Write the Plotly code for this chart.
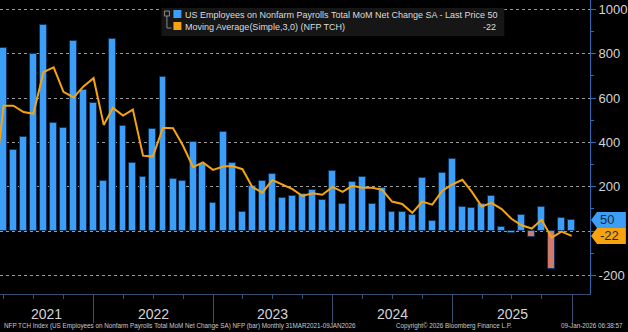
import pandas as pd
import plotly.graph_objects as go

# ---- data ----
months = pd.date_range("2021-03-31", periods=58, freq="ME")
nfp = [825, 364, 423, 799, 931, 486, 466, 856, 637, 576,
       224, 868, 472, 305, 242, 460, 695, 236, 227, 400, 302, 126,
       445, 307, 86, 205, 227, 257, 150, 160, 165, 186, 141, 270,
       120, 221, 245, 120, 193, 87, 87, 72, 239, 45, 260, 324,
       110, 102, 120, 158, 18, -11, 71, -26, 107, -172, 57, 50]
ma_dates = pd.date_range("2021-02-28", periods=59, freq="ME")
ma3 = [170, 566, 566, 537, 529, 718, 739, 628, 603, 653, 690,
       479, 556, 521, 548, 340, 336, 466, 464, 386, 288, 310, 276,
       291, 293, 279, 199, 173, 230, 211, 189, 158, 170, 164, 199,
       177, 204, 195, 195, 186, 133, 122, 82, 133, 119, 181, 210,
       231, 179, 111, 127, 99, 55, 26, 11, 51, -30, -3, -22]
years = ["2021", "2022", "2023", "2024", "2025"]
ytick_vals = [-200, 0, 200, 400, 600, 800, 1000]
ytick_text = ["-200", "", "200", "400", "600", "800", "1000"]

BLUE = "#3d9ef7"
NEG = "#cf7a6d"
ORANGE = "#f5a30f"
TXT = "#d4d4d4"

X_RANGE = ["2021-03-20", "2026-02-25"]
Y_RANGE = [-284.4, 1042.9]

fig = go.Figure()
fig.add_trace(go.Bar(
    x=months, y=nfp,
    marker=dict(color=[BLUE if v >= 0 else NEG for v in nfp],
                line=dict(color="#0b3560", width=1)),
    width=21 * 86400000, showlegend=False, hoverinfo="skip"))
fig.add_trace(go.Scatter(
    x=ma_dates, y=ma3, mode="lines",
    line=dict(color=ORANGE, width=2), showlegend=False, hoverinfo="skip"))

fig.update_layout(
    width=628, height=332,
    margin=dict(l=0, r=36, t=0, b=38),
    paper_bgcolor="black", plot_bgcolor="black",
    bargap=0,
    font=dict(family="Liberation Sans, Arial, sans-serif", color=TXT),
)
fig.update_xaxes(
    type="date", range=X_RANGE, showgrid=False, zeroline=False,
    showline=True, linecolor="#34506e", linewidth=1,
    tickmode="linear", tick0="2021-01-01", dtick="M12",
    ticks="outside", ticklen=28, tickcolor="#34506e", tickwidth=1,
    showticklabels=False,
    minor=dict(ticks="outside", ticklen=4, tickcolor="#34506e",
               dtick="M3", tick0="2021-01-01", showgrid=False),
)
fig.update_yaxes(
    side="right", range=Y_RANGE,
    tickvals=ytick_vals, ticktext=ytick_text,
    showgrid=True, gridcolor="#9a9a9a", griddash="dot", gridwidth=1,
    zeroline=False,
    showline=True, linecolor="#2b6cb3", linewidth=1,
    ticks="outside", ticklen=5, tickcolor="#2b6cb3",
    tickfont=dict(size=13, color=TXT),
    minor=dict(ticks="outside", ticklen=3, tickcolor="#2b6cb3",
               dtick=100, tick0=0, showgrid=False),
)

PW, PH = 592.0, 294.0
def px(x):
    return x / PW
def py(y):
    return 1 - y / PH

# year labels
year_pos = ["2021-08-10", "2022-07-02", "2023-07-02", "2024-07-02", "2025-07-02"]
for yr, xp in zip(years, year_pos):
    fig.add_annotation(x=xp, xref="x", y=py(314), yref="paper",
                       text=yr, showarrow=False, font=dict(size=14, color=TXT),
                       xanchor="center", yanchor="middle")

# footer
foot = dict(size=6.3, color="#c8c8c8")
fig.add_annotation(x=px(2), y=py(326), xref="paper", yref="paper", showarrow=False,
                   xanchor="left", yanchor="middle", font=foot,
                   text="NFP TCH Index (US Employees on Nonfarm Payrolls Total MoM Net Change SA) NFP (bar) Monthly 31MAR2021-09JAN2026")
fig.add_annotation(x=px(456), y=py(326), xref="paper", yref="paper", showarrow=False,
                   xanchor="center", yanchor="middle", font=foot,
                   text="Copyright© 2026 Bloomberg Finance L.P.")
fig.add_annotation(x=px(627), y=py(326), xref="paper", yref="paper", showarrow=False,
                   xanchor="right", yanchor="middle", font=foot,
                   text="09-Jan-2026 06:38:57")

# legend box
fig.add_shape(type="rect", xref="paper", yref="paper",
              x0=px(162), x1=px(506), y0=py(8), y1=py(36),
              fillcolor="#161616", line=dict(width=0), layer="above")
fig.add_shape(type="rect", xref="paper", yref="paper",
              x0=px(165), x1=px(170), y0=py(11), y1=py(16),
              line=dict(color="#8a8a8a", width=1), layer="above")
fig.add_shape(type="path", xref="paper", yref="paper",
              path=f"M {px(167.5)},{py(16)} L {px(167.5)},{py(28)} L {px(172)},{py(28)}",
              line=dict(color="#8a8a8a", width=1), layer="above")
fig.add_shape(type="rect", xref="paper", yref="paper",
              x0=px(174), x1=px(182), y0=py(10), y1=py(18),
              fillcolor=BLUE, line=dict(width=0), layer="above")
fig.add_shape(type="rect", xref="paper", yref="paper",
              x0=px(174), x1=px(182), y0=py(22), y1=py(30),
              fillcolor=ORANGE, line=dict(width=0), layer="above")
leg = dict(size=9, color="#dcdcdc")
fig.add_annotation(x=px(184), y=py(14.5), xref="paper", yref="paper", showarrow=False,
                   xanchor="left", yanchor="middle", font=leg,
                   text=f"US Employees on Nonfarm Payrolls Total MoM Net Change SA - Last Price {nfp[-1]}")
fig.add_annotation(x=px(184), y=py(26.5), xref="paper", yref="paper", showarrow=False,
                   xanchor="left", yanchor="middle", font=leg,
                   text="Moving Average(Simple,3,0) (NFP TCH)")
fig.add_annotation(x=px(500), y=py(26.5), xref="paper", yref="paper", showarrow=False,
                   xanchor="right", yanchor="middle", font=leg,
                   text=f"{ma3[-1]}")

# value tags on the right axis
unit = (Y_RANGE[1] - Y_RANGE[0]) / PH  # data units per pixel
def tag(val, color):
    h = 8 * unit
    x0, x1, x2 = px(593), px(599), px(628)
    path = (f"M {x0},{val} L {x1},{val + h} L {x2},{val + h} "
            f"L {x2},{val - h} L {x1},{val - h} Z")
    fig.add_shape(type="path", xref="paper", yref="y", path=path,
                  fillcolor=color, line=dict(width=0), layer="above")
    fig.add_annotation(x=px(600), y=val, xref="paper", yref="y", showarrow=False,
                       xanchor="left", yanchor="middle",
                       font=dict(size=13, color="#1b2a3a"), text=f"{val}")

tag(nfp[-1], BLUE)
tag(ma3[-1], ORANGE)

fig.write_html("out.html")
